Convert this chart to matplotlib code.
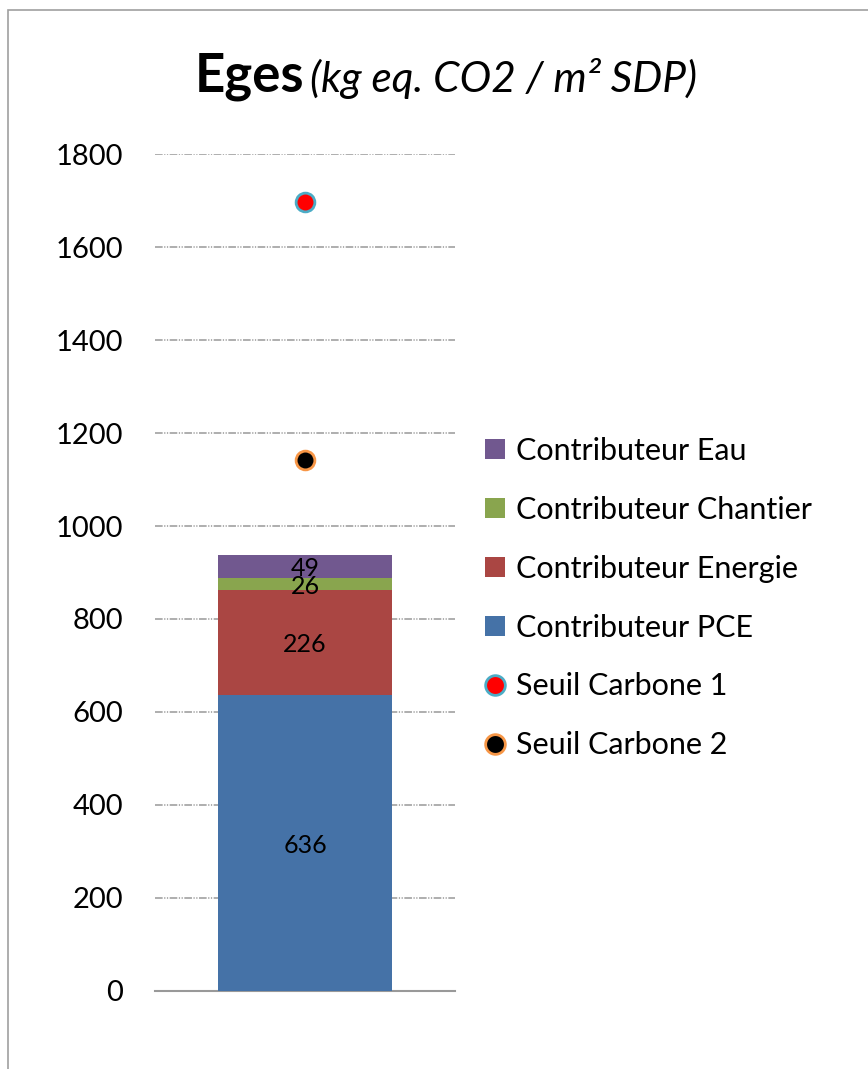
import matplotlib.pyplot as plt
from matplotlib.patches import Rectangle

plt.rcParams['font.family'] = ['Lato', 'DejaVu Sans']

# stacked contributions (bottom to top)
series = ['Contributeur PCE', 'Contributeur Energie', 'Contributeur Chantier', 'Contributeur Eau']
values = [636, 226, 26, 49]
colors = ['#4572A7', '#AA4643', '#89A54E', '#71588F']

# carbon thresholds
seuil_names = ['Seuil Carbone 1', 'Seuil Carbone 2']
seuil_values = [1697, 1142]
seuil_face = ['#FF0000', '#000000']
seuil_edge = ['#4BACC6', '#F79646']

yticks = [0, 200, 400, 600, 800, 1000, 1200, 1400, 1600, 1800]

fig = plt.figure(figsize=(8.68, 10.69), dpi=100)
ax = fig.add_axes([0.1786, 0.0730, 0.3456, 0.7829])

handles = {}
bottom = 0
for name, v, c in zip(series, values, colors):
    b = ax.bar(0, v, width=0.577, bottom=bottom, color=c, zorder=3)
    handles[name] = b
    ax.text(0, bottom + v / 2, str(v), ha='center', va='center_baseline', fontsize=18,
            color='black', zorder=4)
    bottom += v

for name, v, fc, ec in zip(seuil_names, seuil_values, seuil_face, seuil_edge):
    h, = ax.plot([0], [v], 'o', markersize=13.5, markerfacecolor=fc,
                 markeredgecolor=ec, markeredgewidth=2, linestyle='none', zorder=5)
    handles[name] = h

ax.set_xlim(-0.5, 0.5)
ax.set_ylim(0, 1800)
ax.set_yticks(yticks)
ax.set_yticklabels([str(t) for t in yticks], fontsize=21)
ax.set_xticks([])
ax.tick_params(axis='y', length=0, pad=23)
for s in ['top', 'right', 'left']:
    ax.spines[s].set_visible(False)
ax.spines['bottom'].set_color('#999999')
ax.spines['bottom'].set_linewidth(1.5)
ax.yaxis.grid(True, color='#999999', linewidth=1.1,
              linestyle=(0, (5, 1, 0.8, 1, 0.8, 1)), zorder=0)
ax.set_axisbelow(True)

order = ['Contributeur Eau', 'Contributeur Chantier', 'Contributeur Energie',
         'Contributeur PCE', 'Seuil Carbone 1', 'Seuil Carbone 2']
fig.legend([handles[k] for k in order], order, loc='upper left',
           bbox_to_anchor=(0.527, 0.617), frameon=False, fontsize=22,
           handlelength=0.65, handleheight=0.65, handletextpad=0.36,
           labelspacing=1.01, markerscale=1.05)

fig.text(0.2247, 0.914, 'Eges', fontsize=38, fontweight='bold', ha='left', va='baseline')
fig.text(0.357, 0.914, '(kg eq. CO2 / m² SDP)', fontsize=30.5, style='italic',
         ha='left', va='baseline')

fig.patches.append(Rectangle((0.009, -0.1), 1.2, 1.091, transform=fig.transFigure,
                             fill=False, edgecolor='#A0A0A0', linewidth=1.2))

fig.savefig('out.png', dpi=100)
